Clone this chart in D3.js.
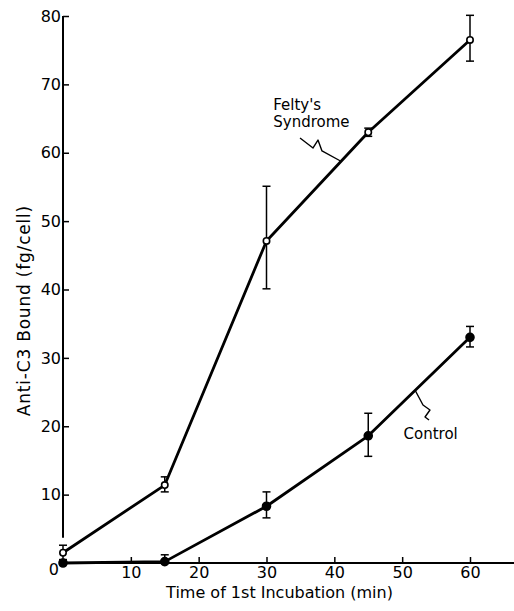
<!DOCTYPE html>
<html><head><meta charset="utf-8">
<script src="https://cdn.jsdelivr.net/npm/d3@7"></script>
<style>
body{margin:0;background:#fff;}
svg{display:block;font-family:"DejaVu Sans",sans-serif;}
</style></head>
<body><svg id="c" width="514" height="611"></svg>
<script>
// Data
const times = [0, 15, 30, 45, 60];
const feltyMean = [1.5, 11.4, 47.1, 63.0, 76.5];
const feltyLow  = [0.5, 10.4, 40.1, 62.4, 73.4];
const feltyHigh = [2.6, 12.6, 55.1, 63.6, 80.1];
const controlMean = [0.0, 0.2, 8.3, 18.6, 33.0];
const controlLow  = [0.0, 0.0, 6.6, 15.6, 31.6];
const controlHigh = [0.0, 1.2, 10.4, 21.9, 34.6];
const xTicks = [10, 20, 30, 40, 50, 60];
const yTicks = [10, 20, 30, 40, 50, 60, 70, 80];
const xTitle = "Time of 1st Incubation (min)";
const yTitle = "Anti-C3 Bound (fg/cell)";
const feltyLabel = ["Felty's", "Syndrome"];
const controlLabel = "Control";
// leader squiggles (data units)
const feltyLeader = [[34.94, 62.16], [36.86, 60.70], [37.59, 61.86], [38.18, 60.26], [40.84, 58.83]];
const controlLeader = [[51.89, 25.30], [53.07, 23.11], [54.10, 22.38], [53.37, 21.35], [53.96, 20.91]];

const svg = d3.select("#c");
const x = d3.scaleLinear().domain([0, 60]).range([63, 470]);
const y = d3.scaleLinear().domain([0, 80]).range([563, 16]);

// X axis
const gx = svg.append("g").attr("transform", `translate(0,${y(0)})`)
  .call(d3.axisBottom(x).tickValues(xTicks).tickSizeInner(-6).tickSizeOuter(0).tickPadding(6));
gx.select(".domain").remove();
gx.selectAll(".tick line").attr("stroke", "#000").attr("stroke-width", 1.5);
gx.selectAll(".tick text").attr("font-size", 16).attr("font-family", "DejaVu Sans").attr("fill", "#000").attr("dy", "0.95em").attr("y", 0);
svg.append("line").attr("x1", x(0)).attr("x2", x(66.6)).attr("y1", y(0)).attr("y2", y(0))
  .attr("stroke", "#000").attr("stroke-width", 2);

// Y axis
const gy = svg.append("g").attr("transform", `translate(${x(0)},0)`)
  .call(d3.axisLeft(y).tickValues(yTicks).tickSizeInner(-6).tickSizeOuter(0).tickPadding(2));
gy.select(".domain").remove();
gy.selectAll(".tick line").attr("stroke", "#000").attr("stroke-width", 1.5);
gy.selectAll(".tick text").attr("font-size", 16).attr("font-family", "DejaVu Sans").attr("fill", "#000");
svg.append("line").attr("x1", x(0)).attr("x2", x(0)).attr("y1", y(80)).attr("y2", y(3.7))
  .attr("stroke", "#000").attr("stroke-width", 2);
svg.append("text").attr("x", x(0) - 4).attr("y", y(0) + 12).attr("text-anchor", "end")
  .attr("font-size", 16).text("0");

// Titles
svg.append("text").attr("x", (x(0) + x(60)) / 2 + 13).attr("y", 598).attr("text-anchor", "middle")
  .attr("font-size", 16).text(xTitle);
svg.append("text").attr("transform", `translate(30,${(y(40) + y(35)) / 2 + 4}) rotate(-90)`)
  .attr("text-anchor", "middle").attr("font-size", 17).attr("letter-spacing", 0.8).text(yTitle);

// Lines
const line = d3.line().x(d => x(d[0])).y(d => y(d[1]));
function series(mean, low, high, filled) {
  const pts = times.map((t, i) => [t, mean[i]]);
  svg.append("path").attr("d", line(pts)).attr("fill", "none").attr("stroke", "#000")
    .attr("stroke-width", 2.8).attr("stroke-linejoin", "round");
  const eb = svg.append("g");
  times.forEach((t, i) => {
    if (high[i] - low[i] <= 0) return;
    eb.append("line").attr("x1", x(t)).attr("x2", x(t)).attr("y1", y(low[i])).attr("y2", y(high[i]))
      .attr("stroke", "#000").attr("stroke-width", 1.5);
    [low[i], high[i]].forEach(v => {
      if (v <= 0) return;
      eb.append("line").attr("x1", x(t) - 4).attr("x2", x(t) + 4).attr("y1", y(v)).attr("y2", y(v))
        .attr("stroke", "#000").attr("stroke-width", 1.5);
    });
  });
  svg.append("g").selectAll("circle").data(pts).join("circle")
    .attr("cx", d => x(d[0])).attr("cy", d => y(d[1]))
    .attr("r", filled ? 4 : 3.2)
    .attr("fill", filled ? "#000" : "#fff").attr("stroke", "#000").attr("stroke-width", 1.6);
}
series(feltyMean, feltyLow, feltyHigh, false);
series(controlMean, controlLow, controlHigh, true);

// Annotations
svg.append("text").attr("x", x(31)).attr("y", y(66.2)).attr("font-size", 15).text(feltyLabel[0]);
svg.append("text").attr("x", x(31)).attr("y", y(63.8)).attr("font-size", 15).text(feltyLabel[1]);
svg.append("path").attr("d", line(feltyLeader))
  .attr("fill", "none").attr("stroke", "#000").attr("stroke-width", 1.4).attr("stroke-linejoin", "round");
svg.append("text").attr("x", x(50.2)).attr("y", y(18.2)).attr("font-size", 15).text(controlLabel);
svg.append("path").attr("d", line(controlLeader))
  .attr("fill", "none").attr("stroke", "#000").attr("stroke-width", 1.4).attr("stroke-linejoin", "round");
</script></body></html>
